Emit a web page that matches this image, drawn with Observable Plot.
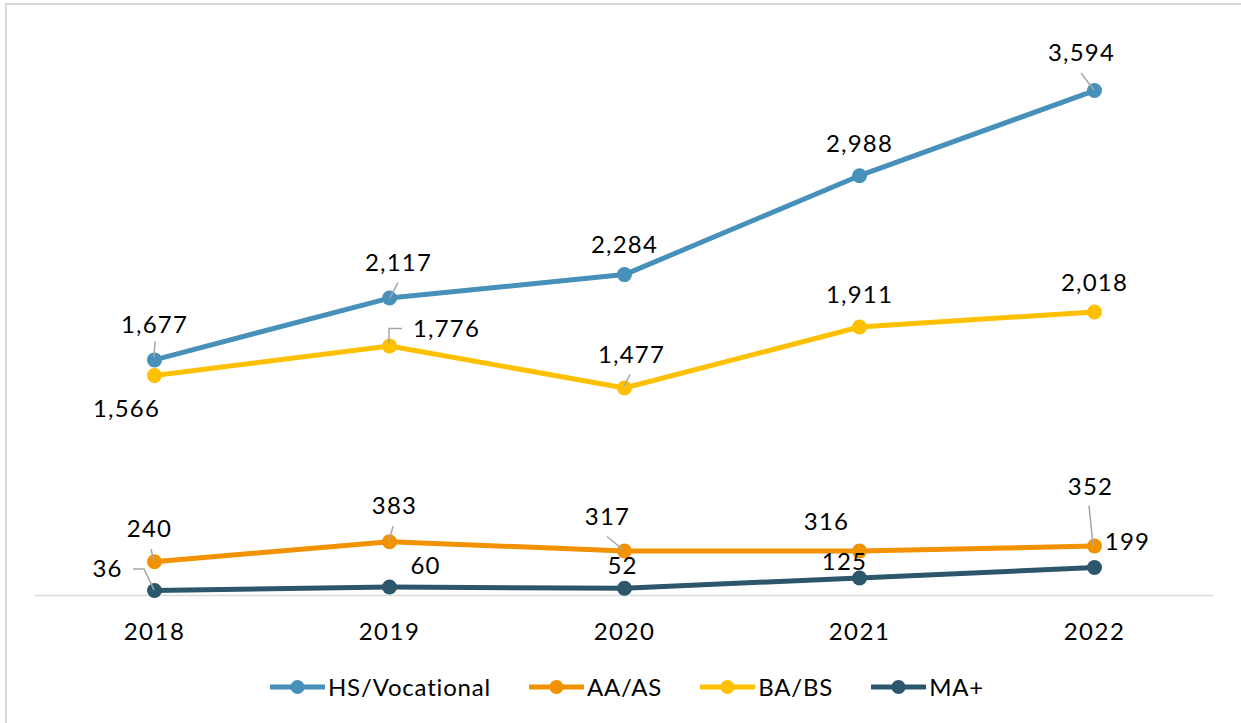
<!DOCTYPE html>
<html>
<head>
<meta charset="utf-8">
<script src="https://cdn.jsdelivr.net/npm/d3@7"></script>
<script src="https://cdn.jsdelivr.net/npm/@observablehq/plot@0.6"></script>
<style>
  html, body { margin: 0; padding: 0; background: #fff; overflow: hidden; }
  #frame { position: absolute; left: 5px; top: 3px; width: 1300px; height: 800px;
           border-left: 2px solid #d9d9d9; border-top: 2px solid #d9d9d9; box-sizing: content-box; }
  #legend { width: 1240px; display: flex; justify-content: center; gap: 38px; margin-top: 27px;
            font-family: Lato, sans-serif; font-size: 24px; letter-spacing: 0.8px; color: #000; line-height: 30px; }
  .item { display: flex; align-items: center; gap: 3px; }
  #chart g[aria-label^="x-axis"] text { font-size: 24px; letter-spacing: 1.5px; }
</style>
</head>
<body>
<div id="frame"><div id="chart"></div><div id="legend"></div></div>
<script>
// ---- data ----
const years = ["2018", "2019", "2020", "2021", "2022"];
const seriesNames = ["HS/Vocational", "AA/AS", "BA/BS", "MA+"];
const hsVocational = [1677, 2117, 2284, 2988, 3594];
const aaAs = [240, 383, 317, 316, 352];
const baBs = [1566, 1776, 1477, 1911, 2018];
const maPlus = [36, 60, 52, 125, 199];

// ---- styling ----
const colors = ["#4690BA", "#F39200", "#FFC000", "#2C566B"];
// label offsets [dx, dy] in px relative to each point
const labelOffsets = {
  "HS/Vocational": [[0, -35], [9, -35], [0, -29], [0, -31], [-13, -37]],
  "AA/AS": [[-5, -32], [5, -35], [-17, -34], [-33, -29], [-4, -59]],
  "BA/BS": [[-28, 34], [57, -17], [7, -33], [0, -32], [0, -29]],
  "MA+": [[-47, -21], [36, -21], [-2, -22], [-15, -16], [33, -25]]
};
// leader lines: [series, yearIndex, polyline of pixel offsets]
const leaders = [
  ["HS/Vocational", 0, [[0, -2], [1, -18]]],
  ["HS/Vocational", 1, [[1, 0], [9, -15]]],
  ["HS/Vocational", 4, [[0, 0], [-13, -17]]],
  ["BA/BS", 1, [[0, -2], [0, -17], [13, -17]]],
  ["BA/BS", 2, [[0, -1], [6, -13]]],
  ["AA/AS", 0, [[0, 0], [-3, -12]]],
  ["AA/AS", 1, [[0, 0], [4, -15]]],
  ["AA/AS", 2, [[0, 0], [-17, -14]]],
  ["AA/AS", 4, [[-1, 0], [-5, -40]]],
  ["MA+", 0, [[-21, -21], [-10, -21], [0, 0]]]
];

const valuesBySeries = [hsVocational, aaAs, baBs, maPlus];
const rows = [];
seriesNames.forEach((s, si) => years.forEach((y, i) => rows.push({series: s, year: y, value: valuesBySeries[si][i], i})));
const valueOf = (s, i) => valuesBySeries[seriesNames.indexOf(s)][i];

const fmt = d3.format(",");
const fontFamily = "Lato, sans-serif";

const labelMarks = rows.map(r => {
  const [dx, dy] = labelOffsets[r.series][r.i];
  return Plot.text([r], {x: "year", y: "value", text: d => fmt(d.value), dx, dy,
    fill: "#000", fontSize: 24, textAnchor: "middle", fontFamily});
});

const leaderMark = (index, scales) => {
  const g = d3.create("svg:g").attr("fill", "none").attr("stroke", "#a6a6a6").attr("stroke-width", 1.5);
  for (const [s, i, pts] of leaders) {
    const px = scales.x(years[i]), py = scales.y(valueOf(s, i));
    g.append("path").attr("d", "M" + pts.map(([dx, dy]) => `${px + dx},${py + dy}`).join("L"));
  }
  return g.node();
};

const chart = Plot.plot({
  width: 1234,
  height: 640,
  marginLeft: 28,
  marginRight: 28,
  marginTop: 28,
  marginBottom: 50,
  style: {fontFamily, fontSize: "22px", color: "#000", background: "transparent", overflow: "visible"},
  x: {type: "point", domain: years, padding: 0.5, tickSize: 0, tickPadding: 27, label: null},
  y: {domain: [0, 4000], axis: null},
  color: {domain: seriesNames, range: colors},
  marks: [
    Plot.ruleY([0], {stroke: "#d9d9d9", strokeWidth: 1.5}),
    Plot.line(rows, {x: "year", y: "value", z: "series", stroke: "series", strokeWidth: 5, strokeLinejoin: "round"}),
    Plot.dot(rows, {x: "year", y: "value", fill: "series", r: 7.5, stroke: "none"}),
    leaderMark,
    ...labelMarks
  ]
});
document.getElementById("chart").appendChild(chart);
chart.querySelectorAll("g[aria-label^='text'] text").forEach(t => { t.style.letterSpacing = "1.2px"; });

// legend
const legend = d3.select("#legend");
seriesNames.forEach((s, i) => {
  const item = legend.append("div").attr("class", "item");
  const svg = item.append("svg").attr("width", 55).attr("height", 16);
  svg.append("line").attr("x1", 1).attr("x2", 54).attr("y1", 8).attr("y2", 8)
    .attr("stroke", colors[i]).attr("stroke-width", 5).attr("stroke-linecap", "round");
  svg.append("circle").attr("cx", 27.5).attr("cy", 8).attr("r", 7).attr("fill", colors[i]);
  item.append("span").text(s);
});
</script>
</body>
</html>
